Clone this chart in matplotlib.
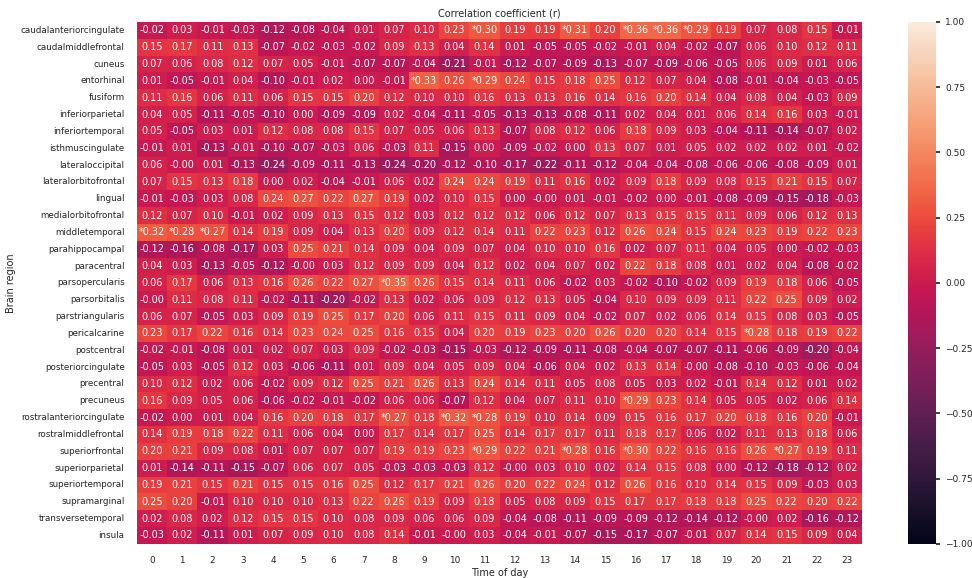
import numpy as np
import matplotlib
matplotlib.use('Agg')
import matplotlib.pyplot as plt
import seaborn as sns

regions = ['caudalanteriorcingulate', 'caudalmiddlefrontal', 'cuneus', 'entorhinal', 'fusiform',
           'inferiorparietal', 'inferiortemporal', 'isthmuscingulate', 'lateraloccipital',
           'lateralorbitofrontal', 'lingual', 'medialorbitofrontal', 'middletemporal',
           'parahippocampal', 'paracentral', 'parsopercularis', 'parsorbitalis', 'parstriangularis',
           'pericalcarine', 'postcentral', 'posteriorcingulate', 'precentral', 'precuneus',
           'rostralanteriorcingulate', 'rostralmiddlefrontal', 'superiorfrontal',
           'superiorparietal', 'superiortemporal', 'supramarginal', 'transversetemporal', 'insula']

hours = list(range(24))

# correlation per region (rows) and hour (columns)
corr = [
    [-0.02, 0.03, -0.01, -0.03, -0.12, -0.08, -0.04, 0.01, 0.07, 0.10, 0.23, 0.30, 0.19, 0.19, 0.31, 0.20, 0.36, 0.36, 0.29, 0.19, 0.07, 0.08, 0.15, -0.01],
    [0.15, 0.17, 0.11, 0.13, -0.07, -0.02, -0.03, -0.02, 0.09, 0.13, 0.04, 0.14, 0.01, -0.05, -0.05, -0.02, -0.01, 0.04, -0.02, -0.07, 0.06, 0.10, 0.12, 0.11],
    [0.07, 0.06, 0.08, 0.12, 0.07, 0.05, -0.01, -0.07, -0.07, -0.04, -0.21, -0.01, -0.12, -0.07, -0.09, -0.13, -0.07, -0.09, -0.06, -0.05, 0.06, 0.09, 0.01, 0.06],
    [0.01, -0.05, -0.01, 0.04, -0.10, -0.01, 0.02, 0.00, -0.01, 0.33, 0.26, 0.29, 0.24, 0.15, 0.18, 0.25, 0.12, 0.07, 0.04, -0.08, -0.01, -0.04, -0.03, -0.05],
    [0.11, 0.16, 0.06, 0.11, 0.06, 0.15, 0.15, 0.20, 0.12, 0.10, 0.10, 0.16, 0.13, 0.13, 0.16, 0.14, 0.16, 0.20, 0.14, 0.04, 0.08, 0.04, -0.03, 0.09],
    [0.04, 0.05, -0.11, -0.05, -0.10, 0.00, -0.09, -0.09, 0.02, -0.04, -0.11, -0.05, -0.13, -0.13, -0.08, -0.11, 0.02, 0.04, 0.01, 0.06, 0.14, 0.16, 0.03, -0.01],
    [0.05, -0.05, 0.03, 0.01, 0.12, 0.08, 0.08, 0.15, 0.07, 0.05, 0.06, 0.13, -0.07, 0.08, 0.12, 0.06, 0.18, 0.09, 0.03, -0.04, -0.11, -0.14, -0.07, 0.02],
    [-0.01, 0.01, -0.13, -0.01, -0.10, -0.07, -0.03, 0.06, -0.03, 0.11, -0.15, 0.00, -0.09, -0.02, 0.00, 0.13, 0.07, 0.01, 0.05, 0.02, 0.02, 0.02, 0.01, -0.02],
    [0.06, -0.001, 0.01, -0.13, -0.24, -0.09, -0.11, -0.13, -0.24, -0.20, -0.12, -0.10, -0.17, -0.22, -0.11, -0.12, -0.04, -0.04, -0.08, -0.06, -0.06, -0.08, -0.09, 0.01],
    [0.07, 0.15, 0.13, 0.18, 0.00, 0.02, -0.04, -0.01, 0.06, 0.02, 0.24, 0.24, 0.19, 0.11, 0.16, 0.02, 0.09, 0.18, 0.09, 0.08, 0.15, 0.21, 0.15, 0.07],
    [-0.01, -0.03, 0.03, 0.08, 0.24, 0.27, 0.22, 0.27, 0.19, 0.02, 0.10, 0.15, 0.00, -0.001, 0.01, -0.01, -0.02, 0.00, -0.01, -0.08, -0.09, -0.15, -0.18, -0.03],
    [0.12, 0.07, 0.10, -0.01, 0.02, 0.09, 0.13, 0.15, 0.12, 0.03, 0.12, 0.12, 0.12, 0.06, 0.12, 0.07, 0.13, 0.15, 0.15, 0.11, 0.09, 0.06, 0.12, 0.13],
    [0.32, 0.28, 0.27, 0.14, 0.19, 0.09, 0.04, 0.13, 0.20, 0.09, 0.12, 0.14, 0.11, 0.22, 0.23, 0.12, 0.26, 0.24, 0.15, 0.24, 0.23, 0.19, 0.22, 0.23],
    [-0.12, -0.16, -0.08, -0.17, 0.03, 0.25, 0.21, 0.14, 0.09, 0.04, 0.09, 0.07, 0.04, 0.10, 0.10, 0.16, 0.02, 0.07, 0.11, 0.04, 0.05, 0.00, -0.02, -0.03],
    [0.04, 0.03, -0.13, -0.05, -0.12, -0.001, 0.03, 0.12, 0.09, 0.09, 0.04, 0.12, 0.02, 0.04, 0.07, 0.02, 0.22, 0.18, 0.08, 0.01, 0.02, 0.04, -0.08, -0.02],
    [0.06, 0.17, 0.06, 0.13, 0.16, 0.26, 0.22, 0.27, 0.35, 0.26, 0.15, 0.14, 0.11, 0.06, -0.02, 0.03, -0.02, -0.10, -0.02, 0.09, 0.19, 0.18, 0.06, -0.05],
    [-0.001, 0.11, 0.08, 0.11, -0.02, -0.11, -0.20, -0.02, 0.13, 0.02, 0.06, 0.09, 0.12, 0.13, 0.05, -0.04, 0.10, 0.09, 0.09, 0.11, 0.22, 0.25, 0.09, 0.02],
    [0.06, 0.07, -0.05, 0.03, 0.09, 0.19, 0.25, 0.17, 0.20, 0.06, 0.11, 0.15, 0.11, 0.09, 0.04, -0.02, 0.07, 0.02, 0.06, 0.14, 0.15, 0.08, 0.03, -0.05],
    [0.23, 0.17, 0.22, 0.16, 0.14, 0.23, 0.24, 0.25, 0.16, 0.15, 0.04, 0.20, 0.19, 0.23, 0.20, 0.26, 0.20, 0.20, 0.14, 0.15, 0.28, 0.18, 0.19, 0.22],
    [-0.02, -0.01, -0.08, 0.01, 0.02, 0.07, 0.03, 0.09, -0.02, -0.03, -0.15, -0.03, -0.12, -0.09, -0.11, -0.08, -0.04, -0.07, -0.07, -0.11, -0.06, -0.09, -0.20, -0.04],
    [-0.05, 0.03, -0.05, 0.12, 0.03, -0.06, -0.11, 0.01, 0.09, 0.04, 0.05, 0.09, 0.04, -0.06, 0.04, 0.02, 0.13, 0.14, -0.001, -0.08, -0.10, -0.03, -0.06, -0.04],
    [0.10, 0.12, 0.02, 0.06, -0.02, 0.09, 0.12, 0.25, 0.21, 0.26, 0.13, 0.24, 0.14, 0.11, 0.05, 0.08, 0.05, 0.03, 0.02, -0.01, 0.14, 0.12, 0.01, 0.02],
    [0.16, 0.09, 0.05, 0.06, -0.06, -0.02, -0.01, -0.02, 0.06, 0.06, -0.07, 0.12, 0.04, 0.07, 0.11, 0.10, 0.29, 0.23, 0.14, 0.05, 0.05, 0.02, 0.06, 0.14],
    [-0.02, 0.00, 0.01, 0.04, 0.16, 0.20, 0.18, 0.17, 0.27, 0.18, 0.32, 0.28, 0.19, 0.10, 0.14, 0.09, 0.15, 0.16, 0.17, 0.20, 0.18, 0.16, 0.20, -0.01],
    [0.14, 0.19, 0.18, 0.22, 0.11, 0.06, 0.04, 0.00, 0.17, 0.14, 0.17, 0.25, 0.14, 0.17, 0.17, 0.11, 0.18, 0.17, 0.06, 0.02, 0.11, 0.13, 0.18, 0.06],
    [0.20, 0.21, 0.09, 0.08, 0.01, 0.07, 0.07, 0.07, 0.19, 0.19, 0.23, 0.29, 0.22, 0.21, 0.28, 0.16, 0.30, 0.22, 0.16, 0.16, 0.26, 0.27, 0.19, 0.11],
    [0.01, -0.14, -0.11, -0.15, -0.07, 0.06, 0.07, 0.05, -0.03, -0.03, -0.03, 0.12, -0.001, 0.03, 0.10, 0.02, 0.14, 0.15, 0.08, 0.00, -0.12, -0.18, -0.12, 0.02],
    [0.19, 0.21, 0.15, 0.21, 0.15, 0.15, 0.16, 0.25, 0.12, 0.17, 0.21, 0.26, 0.20, 0.22, 0.24, 0.12, 0.26, 0.16, 0.10, 0.14, 0.15, 0.09, -0.03, 0.03],
    [0.25, 0.20, -0.01, 0.10, 0.10, 0.10, 0.13, 0.22, 0.26, 0.19, 0.09, 0.18, 0.05, 0.08, 0.09, 0.15, 0.17, 0.17, 0.18, 0.18, 0.25, 0.22, 0.20, 0.22],
    [0.02, 0.08, 0.02, 0.12, 0.15, 0.15, 0.10, 0.08, 0.09, 0.06, 0.06, 0.09, -0.04, -0.08, -0.11, -0.09, -0.09, -0.12, -0.14, -0.12, -0.001, 0.02, -0.16, -0.12],
    [-0.03, 0.02, -0.11, 0.01, 0.07, 0.09, 0.10, 0.08, 0.14, -0.01, -0.001, 0.03, -0.04, -0.01, -0.07, -0.15, -0.17, -0.07, -0.01, 0.07, 0.14, 0.15, 0.09, 0.04],
]

# cells marked significant (row, hour)
significant = [(0, 11), (0, 14), (0, 16), (0, 17), (0, 18), (3, 9), (3, 11),
               (12, 0), (12, 1), (12, 2), (15, 8), (18, 20), (22, 16),
               (23, 8), (23, 10), (23, 11), (25, 11), (25, 14), (25, 16), (25, 21)]

data = np.array(corr)
labels = np.array([[f'{v:.2f}' for v in row] for row in data], dtype=object)
for r, c in significant:
    labels[r, c] = '*' + labels[r, c]

sns.set_theme(style='white')
plt.rcParams['font.family'] = ['DejaVu Sans']

fig = plt.figure(figsize=(9.72, 5.78), dpi=100)
ax = fig.add_axes([0.141, 0.059, 0.746, 0.903])
cax = fig.add_axes([0.934, 0.059, 0.029, 0.903])

sns.heatmap(data, ax=ax, cbar_ax=cax, cmap='rocket', vmin=-1, vmax=1,
            annot=labels, fmt='', annot_kws={'size': 7},
            xticklabels=hours, yticklabels=regions)

ax.set_title('Correlation coefficient (r)', fontsize=7, pad=4)
ax.set_xlabel('Time of day', fontsize=7, labelpad=2)
ax.set_ylabel('Brain region', fontsize=7, labelpad=3)
ax.tick_params(axis='x', labelsize=6.4, rotation=0, pad=3)
ax.tick_params(axis='y', labelsize=6.3, rotation=0, pad=3)
cax.tick_params(labelsize=6.5, length=3)

fig.savefig('out.png', dpi=100)
